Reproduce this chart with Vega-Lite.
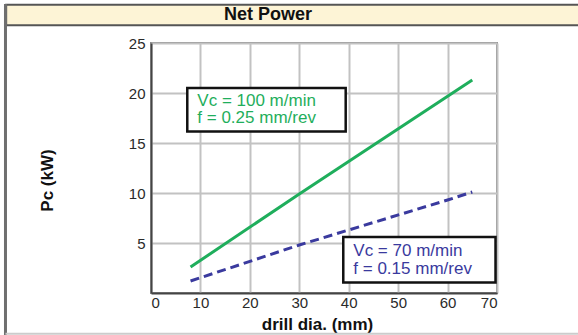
{
  "$schema": "https://vega.github.io/schema/vega-lite/v6.json",
  "width": 346,
  "height": 250,
  "autosize": "none",
  "padding": {"left": 151, "top": 43, "right": 81, "bottom": 42},
  "background": "white",
  "config": {
    "font": "Liberation Sans",
    "view": {"stroke": "#8c8c8c", "strokeWidth": 2},
    "axis": {
      "grid": true,
      "domainColor": "#444444",
      "domainWidth": 2,
      "gridColor": "#c2c2c2",
      "gridWidth": 2,
      "gridOpacity": 1,
      "ticks": false,
      "labelFont": "Liberation Sans",
      "labelFontSize": 15,
      "labelColor": "#2a2a2a",
      "titleFont": "Liberation Sans",
      "titleFontSize": 17,
      "titleFontWeight": "bold",
      "titleColor": "#111111"
    }
  },
  "datasets": {
    "lines": [
      {"d": 8, "p": 2.6, "s": "g"},
      {"d": 30, "p": 9.9, "s": "g"},
      {"d": 65, "p": 21.3, "s": "g"},
      {"d": 8, "p": 1.2, "s": "b"},
      {"d": 30, "p": 4.8, "s": "b"},
      {"d": 60, "p": 9.3, "s": "b"},
      {"d": 65, "p": 10.1, "s": "b"}
    ],
    "boxes": [
      {"x1": 7.34, "x2": 39.39, "y1": 16.16, "y2": 20.5, "s": "g"},
      {"x1": 38.9, "x2": 69.7, "y1": 1.06, "y2": 5.6, "s": "b"}
    ],
    "notes": [
      {"x": 9.37, "y": 18.75, "t": "Vc = 100 m/min", "s": "g"},
      {"x": 9.37, "y": 17.0, "t": "f = 0.25 mm/rev", "s": "g"},
      {"x": 40.93, "y": 3.7, "t": "Vc = 70 m/min", "s": "b"},
      {"x": 40.93, "y": 1.95, "t": "f = 0.15 mm/rev", "s": "b"}
    ],
    "heading": [{"t": "Net Power"}]
  },
  "layer": [
    {
      "data": {"name": "heading"},
      "mark": {"type": "rect", "fill": "#fdf4d6", "stroke": "#555555", "strokeWidth": 2},
      "encoding": {
        "x": {"datum": -29.3, "type": "quantitative", "scale": {"domain": [0, 70]}},
        "x2": {"datum": 92},
        "y": {"datum": 28.83, "type": "quantitative", "scale": {"domain": [0, 25]}},
        "y2": {"datum": 26.78}
      }
    },
    {
      "data": {"name": "heading"},
      "mark": {"type": "rule", "stroke": "#6f6f6f", "strokeWidth": 3},
      "encoding": {
        "x": {"datum": -29.44, "type": "quantitative", "scale": {"domain": [0, 70]}},
        "y": {"datum": 28.9, "type": "quantitative", "scale": {"domain": [0, 25]}},
        "y2": {"datum": -4.2}
      }
    },
    {
      "data": {"name": "heading"},
      "mark": {"type": "rule", "stroke": "#cccccc", "strokeWidth": 2},
      "encoding": {
        "x": {"datum": -29.44, "type": "quantitative", "scale": {"domain": [0, 70]}},
        "x2": {"datum": 92},
        "y": {"datum": -4.07, "type": "quantitative", "scale": {"domain": [0, 25]}}
      }
    },
    {
      "data": {"name": "heading"},
      "mark": {"type": "text", "fontSize": 18, "fontWeight": "bold", "color": "#111111", "align": "center", "baseline": "alphabetic"},
      "encoding": {
        "x": {"datum": 23.67, "type": "quantitative", "scale": {"domain": [0, 70]}},
        "y": {"datum": 27.3, "type": "quantitative", "scale": {"domain": [0, 25]}},
        "text": {"field": "t"}
      }
    },
    {
      "data": {"name": "lines"},
      "transform": [{"filter": "datum.s === 'g'"}],
      "mark": {"type": "line", "stroke": "#1fae5c", "strokeWidth": 3},
      "encoding": {
        "x": {
          "field": "d", "type": "quantitative",
          "scale": {"domain": [0, 70], "nice": false},
          "axis": {
            "grid": true,
            "values": [0, 10, 20, 30, 40, 50, 60, 70],
            "labelPadding": 2,
            "title": "drill dia. (mm)",
            "titleX": 166, "titleY": 36.7,
            "titleAlign": "center", "titleBaseline": "alphabetic"
          }
        },
        "y": {
          "field": "p", "type": "quantitative",
          "scale": {"domain": [0, 25], "nice": false},
          "axis": {
            "grid": true,
            "values": [5, 10, 15, 20, 25],
            "labelPadding": 6,
            "title": "Pc (kW)",
            "titleX": -99, "titleY": 137,
            "titleAngle": 270,
            "titleAlign": "center", "titleBaseline": "alphabetic"
          }
        }
      }
    },
    {
      "data": {"name": "lines"},
      "transform": [{"filter": "datum.s === 'b'"}],
      "mark": {"type": "line", "stroke": "#3a3a9e", "strokeWidth": 3, "strokeDash": [9, 5]},
      "encoding": {
        "x": {"field": "d", "type": "quantitative", "scale": {"domain": [0, 70]}},
        "y": {"field": "p", "type": "quantitative", "scale": {"domain": [0, 25]}}
      }
    },
    {
      "data": {"name": "boxes"},
      "mark": {"type": "rect", "fill": "white", "stroke": "#111111", "strokeWidth": 2.5},
      "encoding": {
        "x": {"field": "x1", "type": "quantitative", "scale": {"domain": [0, 70]}},
        "x2": {"field": "x2"},
        "y": {"field": "y1", "type": "quantitative", "scale": {"domain": [0, 25]}},
        "y2": {"field": "y2"}
      }
    },
    {
      "data": {"name": "notes"},
      "mark": {"type": "text", "fontSize": 17, "align": "left", "baseline": "alphabetic"},
      "encoding": {
        "x": {"field": "x", "type": "quantitative", "scale": {"domain": [0, 70]}},
        "y": {"field": "y", "type": "quantitative", "scale": {"domain": [0, 25]}},
        "text": {"field": "t"},
        "color": {"field": "s", "type": "nominal", "scale": {"domain": ["g", "b"], "range": ["#1fae5c", "#3a3a9e"]}, "legend": null}
      }
    }
  ]
}
